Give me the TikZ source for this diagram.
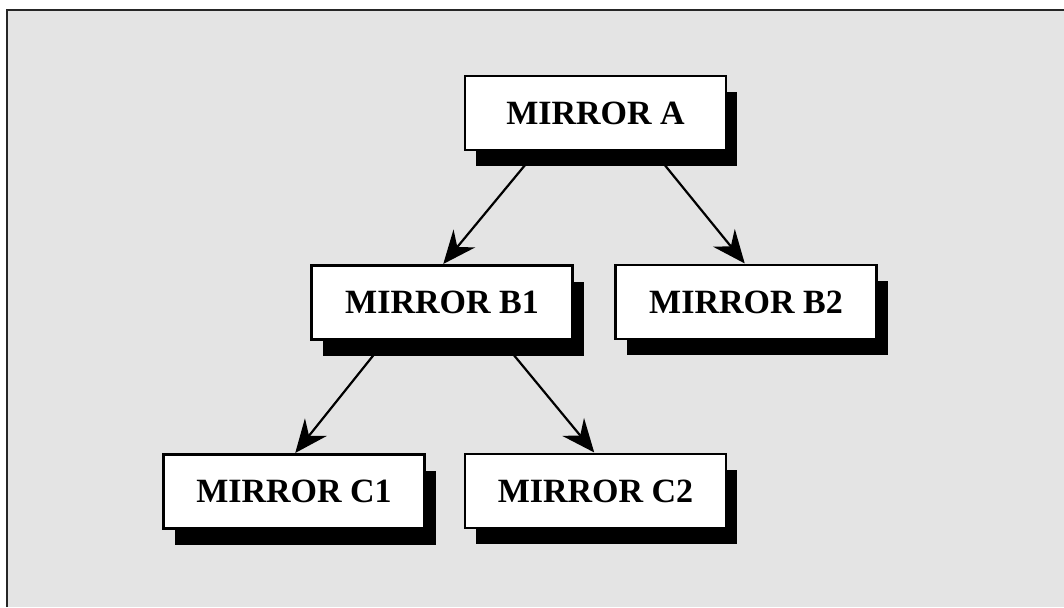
\documentclass[tikz,border=0pt]{standalone}
\usepackage{fontspec}
\setmainfont{Liberation Serif}
\usetikzlibrary{arrows.meta,calc}
\definecolor{bg}{HTML}{E4E4E4}
\pgfdeclarelayer{back}
\pgfdeclarelayer{lines}
\pgfdeclarelayer{shade}
\pgfsetlayers{back,lines,shade,main}
\begin{document}
\begin{tikzpicture}[x=1pt,y=-1pt,
  mirror/.style={draw=black, line width=2.2pt, fill=white, outer sep=0pt,
    minimum width=261pt, minimum height=74pt, inner sep=0pt,
    font=\fontsize{34}{40}\selectfont\bfseries},
  shadowbox/.style={fill=black},
  link/.style={line width=2.2pt, -{Stealth[length=33pt,width=28pt,inset=11pt]}, shorten >=2pt}]
\useasboundingbox (0,0) rectangle (1064,607);
\begin{pgfonlayer}{back}
  \fill[bg] (7,10) rectangle (1064,607);
  \draw[line width=2.2pt, black!85] (7,607) -- (7,10) -- (1064,10);
\end{pgfonlayer}

\node[mirror] (A)  at (595.5,113)   {MIRROR A};
\node[mirror] (B1) at (442,302.5)   {MIRROR B1};
\node[mirror] (B2) at (746,302)     {MIRROR B2};
\node[mirror] (C1) at (294,491.5)   {MIRROR C1};
\node[mirror] (C2) at (595.5,491)   {MIRROR C2};

\begin{pgfonlayer}{shade}
  \foreach \n in {A,B1,B2,C1,C2}
    \fill[shadowbox] ($(\n.south west)+(11,16)$) rectangle ($(\n.north east)+(11,16)$);
\end{pgfonlayer}

\begin{pgfonlayer}{lines}
  \draw[link] ($(A.south)+(-58,0)$) -- (B1.north);
  \draw[link] ($(A.south)+(57,0)$) -- (B2.north);
  \draw[link] ($(B1.south)+(-56,0)$) -- (C1.north);
  \draw[link] ($(B1.south)+(59,0)$) -- (C2.north);
\end{pgfonlayer}
\end{tikzpicture}
\end{document}
